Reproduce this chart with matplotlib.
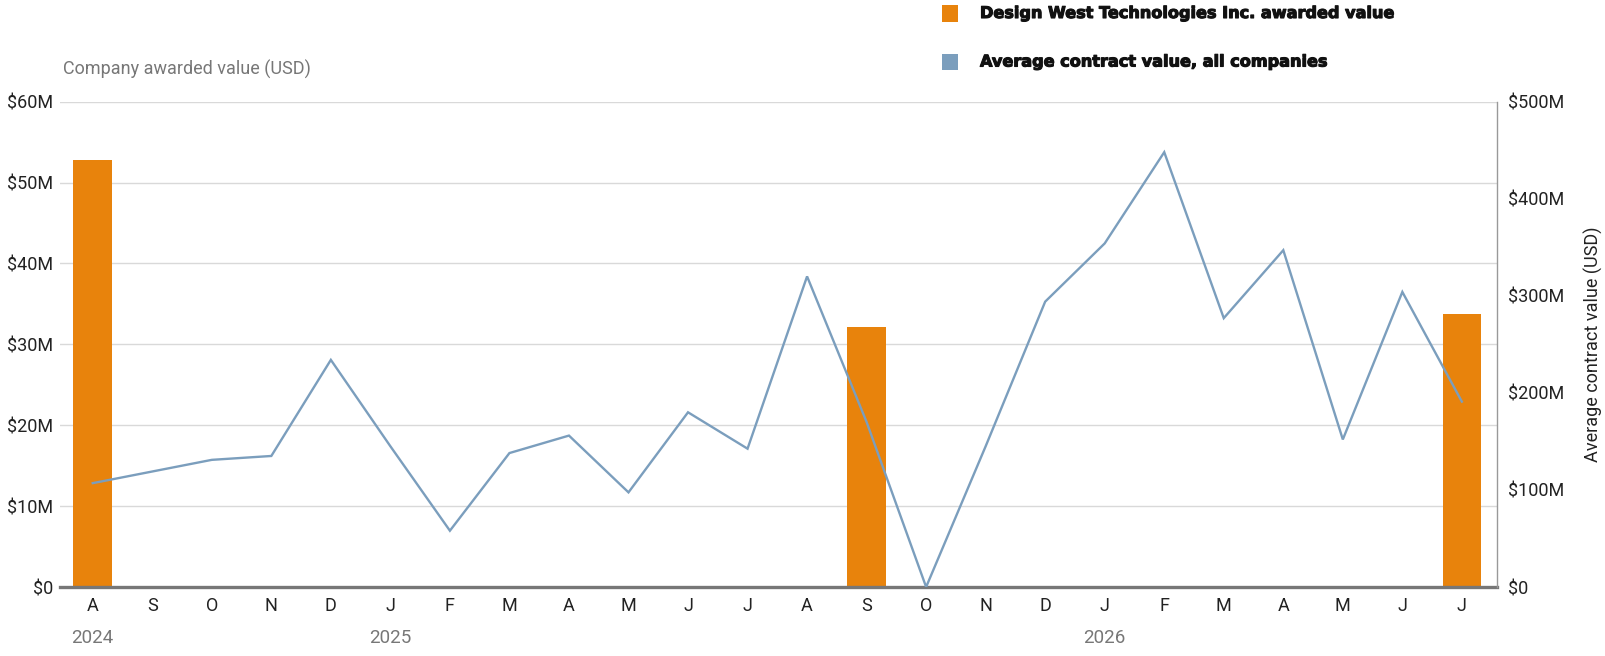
import matplotlib
matplotlib.use("Agg")
import matplotlib.pyplot as plt
import matplotlib.patheffects as pe
from matplotlib.patches import Rectangle

months = ["A", "S", "O", "N", "D", "J", "F", "M", "A", "M", "J", "J",
          "A", "S", "O", "N", "D", "J", "F", "M", "A", "M", "J", "J"]
years = ["2024", "2025", "2026"]
year_pos = [0, 5, 17]
# Company awarded value (USD millions)
company_value = [52.8, 0, 0, 0, 0, 0, 0, 0, 0, 0, 0, 0,
                 0, 32.1, 0, 0, 0, 0, 0, 0, 0, 0, 0, 33.8]
# Average contract value, all companies (USD millions)
avg_value = [107, 119, 131, 135, 234, 145, 58, 138, 156, 97.5, 180, 142.5,
             320, 170, 0, 145, 294, 354, 448, 277, 347, 152, 304, 191]
left_ticks = [0, 10, 20, 30, 40, 50, 60]
right_ticks = [0, 100, 200, 300, 400, 500]

ORANGE = "#E8830C"
BLUE = "#7B9EBD"
GRID = "#D9D9D9"
DARK = "#222222"
GRAY = "#777777"
FONT = ["Roboto", "DejaVu Sans"]

plt.rcParams["font.family"] = FONT

fig = plt.figure(figsize=(16.06, 6.56), dpi=100)
ax = fig.add_axes([60 / 1606, 1 - 587 / 656, (1497 - 60) / 1606, (587 - 101.7) / 656])
x = list(range(len(months)))
ax.bar(x, company_value, width=0.65, color=ORANGE, zorder=2)
ax.set_xlim(-0.55, 23.59)
ax.set_ylim(0, 60)
ax.set_yticks(left_ticks)
ax.set_yticklabels(["$0"] + [f"${v}M" for v in left_ticks[1:]], fontsize=13, color=DARK)
ax.yaxis.grid(True, color=GRID, linewidth=1, zorder=0)
ax.set_axisbelow(True)
ax.set_xticks(x)
ax.set_xticklabels(months, fontsize=13, color=DARK)
ax.tick_params(axis="both", length=0)
ax.tick_params(axis="x", pad=7)
ax.tick_params(axis="y", pad=5)
for s in ["left", "top", "right"]:
    ax.spines[s].set_visible(False)
ax.spines["bottom"].set_color(GRAY)
ax.spines["bottom"].set_linewidth(2.4)
ax.spines["bottom"].set_zorder(5)

for yr, p in zip(years, year_pos):
    ax.text(p, -0.105, yr, transform=ax.get_xaxis_transform(), ha="center", va="center",
            fontsize=13.5, color=GRAY)

ax2 = ax.twinx()
ax2.plot(x, avg_value, color=BLUE, linewidth=1.7, zorder=3, solid_joinstyle="miter")
ax2.set_ylim(0, 500)
ax2.set_yticks(right_ticks)
ax2.set_yticklabels(["$0"] + [f"${v}M" for v in right_ticks[1:]], fontsize=13, color=DARK)
ax2.tick_params(axis="y", length=0, pad=8)
for s in ["left", "top", "bottom"]:
    ax2.spines[s].set_visible(False)
ax2.spines["right"].set_color("#999999")
ax2.spines["right"].set_linewidth(1)
ax2.set_ylabel("Average contract value (USD)", fontsize=13, color=DARK, labelpad=14)

fig.text(63 / 1606, 1 - 69 / 656, "Company awarded value (USD)", fontsize=13, color=GRAY,
         ha="left", va="center")

# legend
legend_items = [("Design West Technologies Inc. awarded value", ORANGE, 13.5),
                ("Average contract value, all companies", BLUE, 62)]
for label, col, yc in legend_items:
    fig.patches.append(Rectangle((942 / 1606, 1 - (yc + 8) / 656), 16 / 1606, 16 / 656,
                                 transform=fig.transFigure, facecolor=col, edgecolor="none"))
    fig.text(980 / 1606, 1 - yc / 656, label, fontsize=11.6, color="#111111",
             fontweight="bold", family=["DejaVu Sans"], ha="left", va="center",
             path_effects=[pe.withStroke(linewidth=0.8, foreground="#111111")])

fig.savefig("out.png", dpi=100)
